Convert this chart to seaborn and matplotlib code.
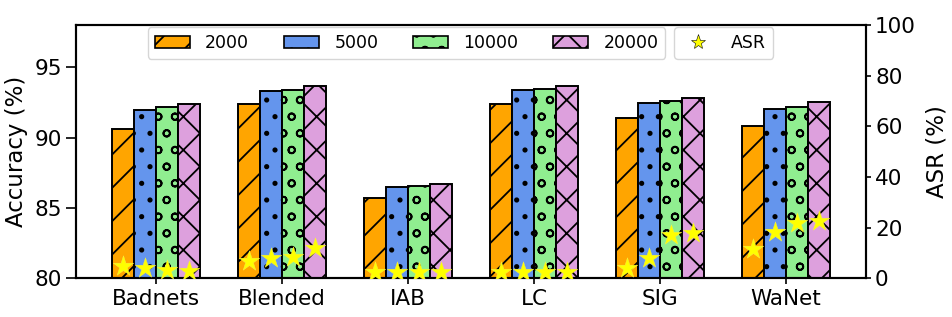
import numpy as np
import pandas as pd
import matplotlib
matplotlib.use("Agg")
import matplotlib.pyplot as plt
import seaborn as sns
from matplotlib.patches import Patch
from matplotlib.lines import Line2D

# ---------------- data ----------------
attacks = ["Badnets", "Blended", "IAB", "LC", "SIG", "WaNet"]
sizes = ["2000", "5000", "10000", "20000"]

acc_2000 = [90.6, 92.4, 85.7, 92.4, 91.4, 90.85]
acc_5000 = [92.0, 93.3, 86.47, 93.35, 92.45, 92.05]
acc_10000 = [92.15, 93.42, 86.56, 93.46, 92.6, 92.2]
acc_20000 = [92.4, 93.65, 86.72, 93.68, 92.85, 92.5]

asr_2000 = [4.9, 7.0, 2.4, 2.7, 4.0, 11.5]
asr_5000 = [4.0, 8.0, 2.4, 2.4, 8.2, 18.5]
asr_10000 = [3.4, 8.6, 2.4, 2.4, 17.2, 21.8]
asr_20000 = [3.1, 11.9, 2.4, 2.4, 18.1, 22.8]

acc_ticks = [80, 85, 90, 95]
asr_ticks = [0, 20, 40, 60, 80, 100]

colors = ["orange", "cornflowerblue", "lightgreen", "plum"]
hatches = ["/", ".", "o", "x"]

acc_all = [acc_2000, acc_5000, acc_10000, acc_20000]
asr_all = [asr_2000, asr_5000, asr_10000, asr_20000]

df = pd.DataFrame({
    "attack": [a for _ in sizes for a in attacks],
    "size": [s for s in sizes for _ in attacks],
    "acc": [v for vals in acc_all for v in vals],
})

# ---------------- style ----------------
plt.rcParams["font.family"] = ["DejaVu Sans"]
plt.rcParams["hatch.linewidth"] = 1.3
plt.rcParams["axes.linewidth"] = 1.5

DPI = 100
fig = plt.figure(figsize=(952 / DPI, 317 / DPI), dpi=DPI)
ax = fig.add_axes([0.0798, 0.1215, 0.9097 - 0.0798, 0.9211 - 0.1215])

sns.barplot(data=df, x="attack", y="acc", hue="size", order=attacks,
            hue_order=sizes, palette=dict(zip(sizes, colors)),
            width=0.7, saturation=1, edgecolor="black", linewidth=1.4,
            legend=False, ax=ax)

for cont, h in zip(ax.containers, hatches):
    for bar in cont:
        bar.set_hatch(h)

ax.set_ylim(80, 98)
ax.set_xlim(-0.635, 5.635)
ax.set_yticks(acc_ticks)
ax.set_xlabel("")
ax.set_ylabel("Accuracy (%)", fontsize=16.5, labelpad=5)
ax.tick_params(axis="y", labelsize=15.5, length=7, width=1.2, pad=3, left=True)
ax.tick_params(axis="x", labelsize=15.5, length=4.5, width=1.2, pad=3, bottom=True)

ax2 = ax.twinx()
for cont, asr in zip(ax.containers, asr_all):
    xs = [b.get_x() + b.get_width() / 2 for b in cont]
    sns.scatterplot(x=xs, y=asr, ax=ax2, marker="*", s=240, color="yellow",
                    edgecolor="#f5f04a", linewidth=0.3, zorder=5, legend=False)
ax2.set_ylim(0, 100)
ax2.set_yticks(asr_ticks)
ax2.set_ylabel("ASR (%)", fontsize=16.5, labelpad=7)
ax2.tick_params(axis="y", labelsize=15.5, length=3.5, width=1.2, pad=3, right=True)
for sp in ax2.spines.values():
    sp.set_linewidth(1.5)

handles = [Patch(facecolor=c, edgecolor="black", hatch=h, linewidth=1.2)
           for c, h in zip(colors, hatches)]
leg1 = ax2.legend(handles, sizes, ncol=4, loc="upper left",
                  bbox_to_anchor=(0.091, 0.992), fontsize=12.5,
                  borderaxespad=0, handletextpad=0.9, columnspacing=2.0)
ax2.add_artist(leg1)
star_handle = Line2D([], [], linestyle="none", marker="*", markersize=11,
                     markerfacecolor="yellow", markeredgecolor="black",
                     markeredgewidth=0.4)
ax2.legend([star_handle], ["ASR"], loc="upper left",
           bbox_to_anchor=(0.757, 0.992), fontsize=12.5, borderaxespad=0,
           handletextpad=0.9)

fig.savefig("out.png", dpi=DPI)
